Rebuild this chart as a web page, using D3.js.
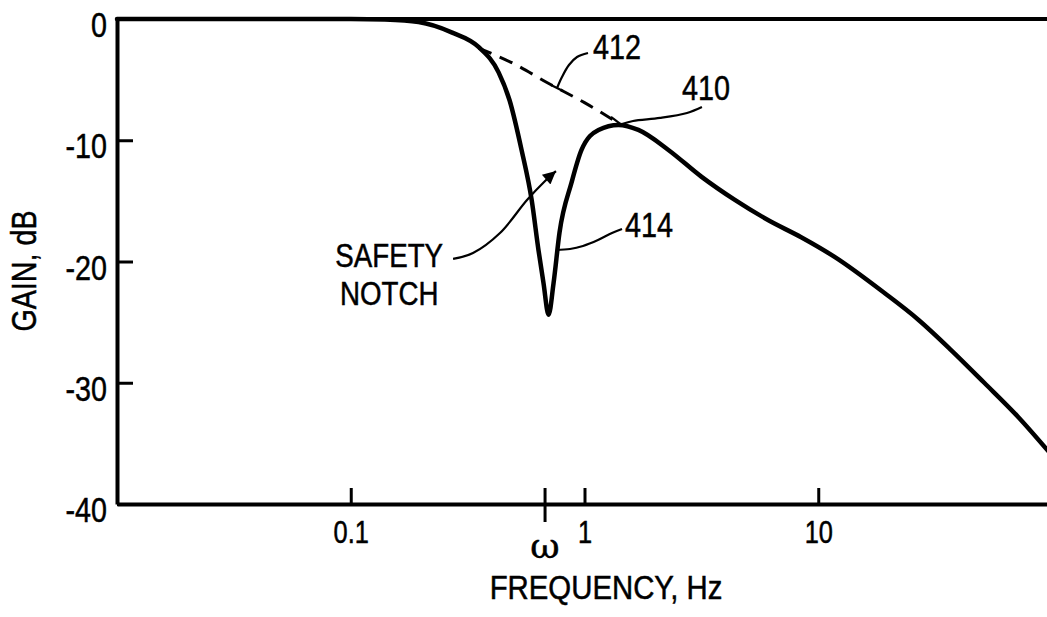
<!DOCTYPE html>
<html><head><meta charset="utf-8">
<script src="https://cdn.jsdelivr.net/npm/d3@7"></script>
<style>
body{margin:0;background:#fff;}
svg{display:block;}
text{font-family:"Liberation Sans Narrow","Arial Narrow","Liberation Sans",Arial,sans-serif;fill:#000;stroke:#000;stroke-width:0.5px;}
</style></head><body><svg id="chart" width="1047" height="617"></svg>
<script>
// ---- data (frequency in Hz, gain in dB) ----
const freq = [0.01, 0.05, 0.1, 0.14, 0.195, 0.27, 0.352, 0.429, 0.478, 0.538, 0.594, 0.636, 0.668, 0.702, 0.737, 0.782, 0.88, 0.971, 1.148, 1.397, 1.70, 2.285, 3.16, 4.38, 6.12, 8.45, 11.7, 19.2, 26.8, 37.0, 51.3, 71.5, 100];
const gain = [0, 0, 0, -0.05, -0.25, -1.1, -2.3, -4.4, -6.7, -10.8, -14.9, -19.1, -21.8, -24.4, -21.8, -17.6, -13.5, -10.8, -9.15, -8.74, -9.15, -10.8, -13.0, -14.9, -16.6, -18.0, -19.6, -22.6, -24.8, -27.3, -30.0, -32.8, -36.0];
const dashFreq = [0.352, 0.5, 0.70, 1.0, 1.4];
const dashGain = [-2.4, -3.7, -5.3, -6.9, -8.6];
const xTickValues = [0.1, 1, 10];
const xTickLabels = ["0.1", "1", "10"];
const yTickValues = [0, -10, -20, -30, -40];
const yTickLabels = ["0", "-10", "-20", "-30", "-40"];
const omegaFreq = 0.678;
// annotation leaders, in data units [f, dB]
const lead412 = [[1.035, -2.80], [0.929, -3.13], [0.858, -3.79], [0.801, -4.78], [0.763, -5.69]];
const tick412 = [[0.719, -5.44], [0.809, -5.94]];
const lead410 = [[3.18, -7.26], [2.745, -7.75], [2.104, -8.16], [1.613, -8.41], [1.447, -8.66]];
const tick410 = [[1.298, -8.08], [1.46, -8.82]];
const lead414 = [[1.447, -17.32], [1.311, -17.65], [1.142, -18.23], [0.985, -18.72], [0.867, -18.97], [0.755, -19.05]];
const leadNotch = [[0.274, -19.79], [0.3334, -19.30], [0.435, -17.65], [0.5675, -14.93], [0.678, -13.36], [0.755, -12.54]];

const svg = d3.select("#chart");
const x = d3.scaleLog().domain([0.01, 100]).range([117, 1052]);
const y = d3.scaleLinear().domain([-40, 0]).range([504, 19]);

// top frame line
svg.append("line").attr("x1", x(0.01)).attr("x2", 1047).attr("y1", y(0)).attr("y2", y(0))
  .attr("stroke", "#000").attr("stroke-width", 4);

// x axis
const kx = 0.82;
const gx = svg.append("g").attr("transform", `translate(0,${y(-40)})`)
  .call(d3.axisBottom(x).tickValues(xTickValues).tickFormat((d, i) => xTickLabels[i])
    .tickSize(-16).tickSizeOuter(0).tickPadding(17));
gx.select(".domain").attr("stroke-width", 4);
gx.selectAll(".tick line").attr("stroke-width", 3);
gx.selectAll(".tick text").attr("font-size", 31).attr("font-family", null)
  .attr("transform", `scale(${kx},1)`);
// omega tick (crosses the axis)
svg.append("line").attr("x1", x(omegaFreq)).attr("x2", x(omegaFreq))
  .attr("y1", y(-40) - 16).attr("y2", y(-40) + 18).attr("stroke", "#000").attr("stroke-width", 3);
svg.append("text").attr("x", x(omegaFreq)).attr("y", y(-40) + 54).attr("text-anchor", "middle")
  .style("font-family", "'DejaVu Serif', serif").attr("font-size", 36).text("ω");

// y axis
const ky = 0.82;
const gy = svg.append("g").attr("transform", `translate(${x(0.01)},0)`)
  .call(d3.axisLeft(y).tickValues(yTickValues).tickFormat((d, i) => yTickLabels[i])
    .tickSize(-16).tickSizeOuter(0).tickPadding(10));
gy.select(".domain").attr("stroke-width", 4);
gy.selectAll(".tick line").attr("stroke-width", 3);
gy.selectAll(".tick text").attr("font-size", 35).attr("dy", "0.5em").attr("font-family", null)
  .attr("x", -10 / ky).attr("transform", `scale(${ky},1)`);

// free text helper with horizontal condensing
function ctext(px, py, txt, size, k, anchor, rot) {
  return svg.append("text")
    .attr("transform", `translate(${px},${py})${rot ? ` rotate(${rot})` : ""} scale(${k},1)`)
    .attr("text-anchor", anchor || "start").attr("font-size", size).text(txt);
}

// axis titles
ctext(606, 599, "FREQUENCY, Hz", 33, 0.89, "middle");
ctext(36, 271, "GAIN, dB", 35, 0.82, "middle", -90);

// dashed asymptote 412
const dashData = dashFreq.map((f, i) => [f, dashGain[i]]);
svg.append("path").datum(dashData)
  .attr("d", d3.line().x(d => x(d[0])).y(d => y(d[1])).curve(d3.curveMonotoneX))
  .attr("fill", "none").attr("stroke", "#000").attr("stroke-width", 3).attr("stroke-dasharray", "14,9");

// main curve 410/414
const mainData = freq.map((f, i) => [f, gain[i]]);
svg.append("path").datum(mainData)
  .attr("d", d3.line().x(d => x(d[0])).y(d => y(d[1])).curve(d3.curveMonotoneX))
  .attr("fill", "none").attr("stroke", "#000").attr("stroke-width", 4.5)
  .attr("stroke-linejoin", "round").attr("stroke-linecap", "round");

// annotations
svg.append("defs").append("marker").attr("id", "arr").attr("viewBox", "0 0 10 10")
  .attr("refX", 10).attr("refY", 5).attr("markerWidth", 18).attr("markerHeight", 13)
  .attr("markerUnits", "userSpaceOnUse").attr("orient", "auto")
  .append("path").attr("d", "M0,0 L10,5 L0,10 z").attr("fill", "#000");

const leader = d3.line().x(d => x(d[0])).y(d => y(d[1])).curve(d3.curveCatmullRom);
function drawLeader(pts, arrow) {
  const p = svg.append("path").attr("d", leader(pts)).attr("fill", "none")
    .attr("stroke", "#000").attr("stroke-width", 2.2);
  if (arrow) p.attr("marker-end", "url(#arr)");
}
drawLeader(lead412); drawLeader(tick412);
drawLeader(lead410); drawLeader(tick410);
drawLeader(lead414);
drawLeader(leadNotch, true);

ctext(x(1.087), y(-3.30), "412", 36, 0.8);
ctext(x(2.61), y(-6.68), "410", 36, 0.8);
ctext(x(1.49), y(-17.98), "414", 36, 0.8);
const notch = svg.append("text")
  .attr("transform", `translate(${x(0.146)},${y(-20.46)}) scale(0.84,1)`)
  .attr("text-anchor", "middle").attr("font-size", 33);
notch.append("tspan").attr("x", 0).attr("dy", 0).text("SAFETY");
notch.append("tspan").attr("x", 0).attr("dy", 37.5).text("NOTCH");
</script></body></html>
